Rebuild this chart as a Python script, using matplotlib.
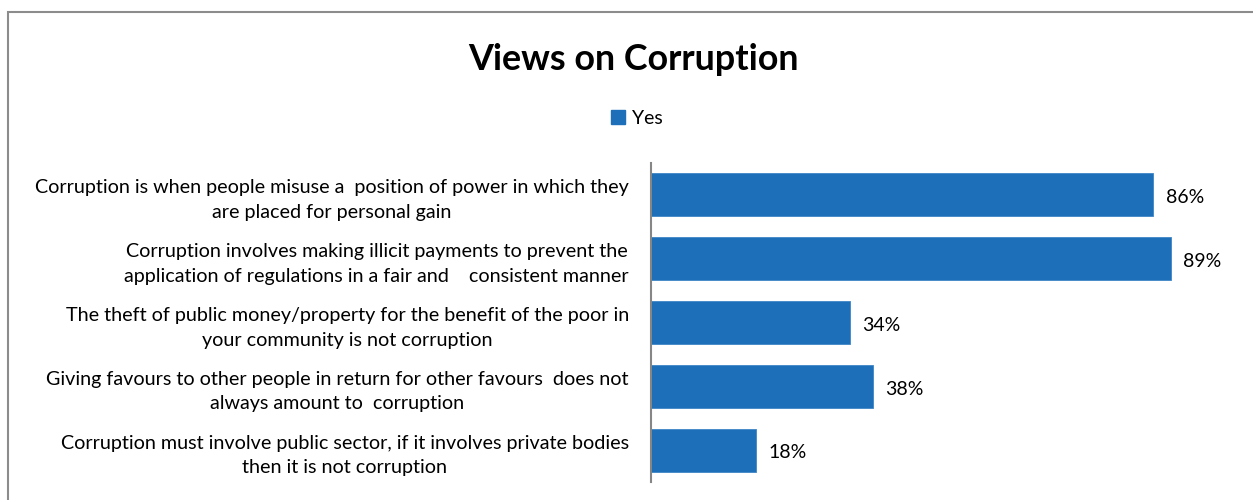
import matplotlib
matplotlib.use("Agg")
import matplotlib.pyplot as plt
from matplotlib.patches import Patch, Rectangle

# Survey statements and share of respondents answering "Yes"
statements = [
    "Corruption is when people misuse a  position of power in which they\nare placed for personal gain",
    "Corruption involves making illicit payments to prevent the\napplication of regulations in a fair and    consistent manner",
    "The theft of public money/property for the benefit of the poor in\nyour community is not corruption",
    "Giving favours to other people in return for other favours  does not\nalways amount to  corruption",
    "Corruption must involve public sector, if it involves private bodies\nthen it is not corruption",
]
yes_pct = [86, 89, 34, 38, 18]
series_name = "Yes"
title = "Views on Corruption"

BAR_COLOR = "#1c6fb8"
FONT = "Lato"

W, H = 1253, 500
fig = plt.figure(figsize=(W / 100, H / 100), dpi=100)
fig.patch.set_facecolor("white")

# Outer frame of the chart area
fig.add_artist(Rectangle((8 / W, -0.1), 1.2, 1 - 12 / H + 0.1, transform=fig.transFigure,
                         fill=False, edgecolor="#8c8c8c", linewidth=1.5))

ax = fig.add_axes([651 / W, 18 / H, 584 / W, 319 / H])
ypos = list(range(len(statements)))
ax.barh(ypos, yes_pct, height=0.675, color=BAR_COLOR, edgecolor="#3d86c6", linewidth=0.6)
ax.set_xlim(0, 100)
ax.set_ylim(len(statements) - 0.5, -0.5)

for s in ["top", "right", "bottom"]:
    ax.spines[s].set_visible(False)
ax.spines["left"].set_color("#868686")
ax.spines["left"].set_linewidth(1.5)
ax.set_xticks([])
ax.set_yticks(ypos)
ax.set_yticklabels(statements, fontsize=14.2, family=FONT, multialignment="center",
                   linespacing=1.55)
ax.tick_params(axis="y", length=0, pad=16)

for y, v in zip(ypos, yes_pct):
    ax.annotate(f"{v}%", xy=(v, y), xytext=(9, -2), textcoords="offset points",
                ha="left", va="center", fontsize=14, family=FONT, color="black")

fig.text(633 / W, 1 - 59 / H, title, ha="center", va="center", fontsize=25.8,
         fontweight="bold", family=FONT)

fig.legend(handles=[Patch(facecolor=BAR_COLOR, edgecolor=BAR_COLOR, label=series_name)],
           loc="center", bbox_to_anchor=(637 / W, 1 - 118 / H), frameon=False,
           handlelength=0.7, handleheight=0.7, handletextpad=0.4,
           prop={"family": FONT, "size": 14})

fig.savefig("out.png", dpi=100)
